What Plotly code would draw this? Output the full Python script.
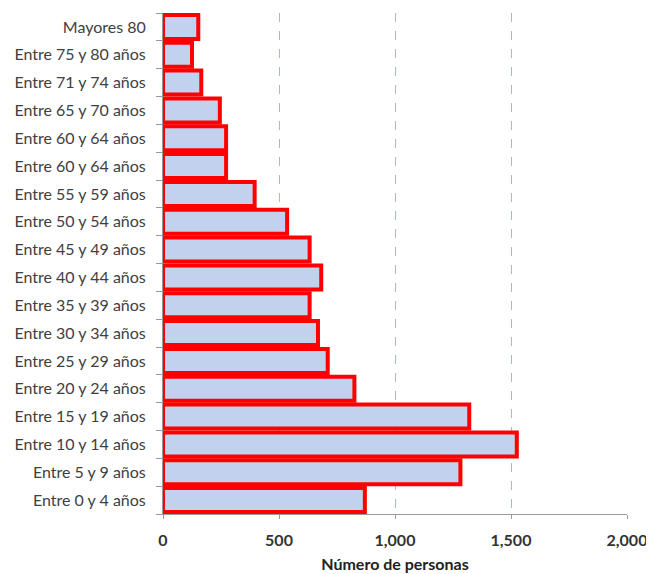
import plotly.graph_objects as go

categories = [
    "Entre 0 y 4 años", "Entre 5 y 9 años", "Entre 10 y 14 años", "Entre 15 y 19 años",
    "Entre 20 y 24 años", "Entre 25 y 29 años", "Entre 30 y 34 años", "Entre 35 y 39 años",
    "Entre 40 y 44 años", "Entre 45 y 49 años", "Entre 50 y 54 años", "Entre 55 y 59 años",
    "Entre 60 y 64 años", "Entre 60 y 64 años", "Entre 65 y 70 años", "Entre 71 y 74 años",
    "Entre 75 y 80 años", "Mayores 80",
]
values = [870, 1282, 1525, 1320, 825, 710, 668, 632, 682, 632, 535, 395, 272, 272, 245, 165, 125, 152]
x_ticks = [0, 500, 1000, 1500, 2000]
x_tick_labels = ["0", "500", "1,000", "1,500", "2,000"]

positions = list(range(len(categories)))

fig = go.Figure(go.Bar(
    x=values,
    y=positions,
    orientation="h",
    width=0.86,
    marker=dict(color="#c2d2ee", line=dict(color="#ff0000", width=4)),
))

fig.update_layout(
    width=646, height=566,
    margin=dict(l=155, r=27, t=5, b=60),
    paper_bgcolor="white", plot_bgcolor="white",
    showlegend=False,
    font=dict(family="Lato, 'Open Sans', sans-serif", color="#404040"),
)

fig.update_xaxes(
    range=[0, 2000],
    automargin=False,
    tickvals=x_ticks, ticktext=x_tick_labels,
    tickfont=dict(size=16, color="#333333", family="Lato, sans-serif", weight="bold"),
    showgrid=True, gridcolor="#a9bad0", griddash="dash", gridwidth=1,
    showline=True, linecolor="#9a9a9a", linewidth=1,
    ticks="outside", ticklen=4, tickcolor="#9a9a9a",
    ticklabelstandoff=8,
    zeroline=False,
    title=dict(text="<b>Número de personas</b>", font=dict(size=16, color="#222222"), standoff=10),
)

fig.update_yaxes(
    range=[-0.5, len(categories) - 0.5],
    automargin=False,
    tickvals=positions, ticktext=categories,
    tickfont=dict(size=16, color="#404040"),
    showgrid=False, zeroline=False,
    showline=True, linecolor="#9a9a9a", linewidth=1,
    ticks="", ticklabelstandoff=13,
    minor=dict(ticks="outside", tick0=-0.5, dtick=1, ticklen=6, tickcolor="#9a9a9a", showgrid=False),
)

fig.write_html("out.html")
